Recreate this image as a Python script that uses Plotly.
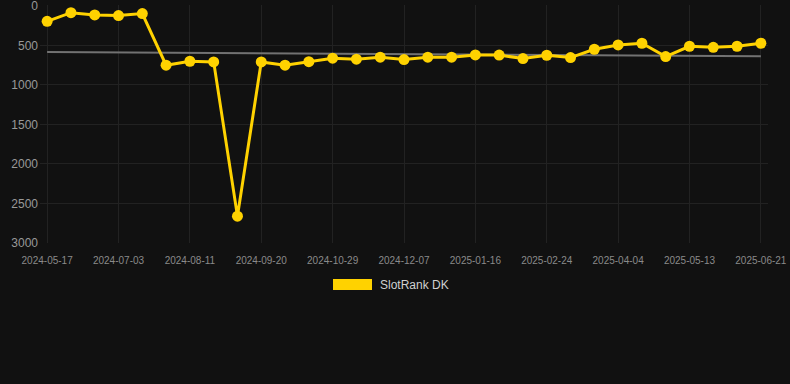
import numpy as np
import plotly.graph_objects as go

dates = ["2024-05-17", "2024-06-01", "2024-06-17", "2024-07-03", "2024-07-16", "2024-07-29",
         "2024-08-11", "2024-08-24", "2024-09-07", "2024-09-20", "2024-10-03", "2024-10-16",
         "2024-10-29", "2024-11-11", "2024-11-24", "2024-12-07", "2024-12-20", "2025-01-03",
         "2025-01-16", "2025-01-29", "2025-02-11", "2025-02-24", "2025-03-09", "2025-03-22",
         "2025-04-04", "2025-04-17", "2025-04-30", "2025-05-13", "2025-05-26", "2025-06-08",
         "2025-06-21"]
ranks = [195, 85, 114, 122, 97, 750, 700, 708, 2660, 708, 750, 706, 661, 674, 649, 678,
         649, 649, 620, 622, 666, 624, 653, 548, 493, 472, 641, 510, 523, 510, 472]
tick_labels = dates[::3]
y_ticks = [0, 500, 1000, 1500, 2000, 2500, 3000]
series_name = "SlotRank DK"

idx = np.arange(len(ranks))
slope, intercept = np.polyfit(idx, ranks, 1)
trend = slope * idx + intercept

GOLD = "#FFD200"
fig = go.Figure()
fig.add_trace(go.Scatter(x=dates, y=trend, mode="lines",
                         line=dict(color="#727272", width=2), showlegend=False, hoverinfo="skip"))
fig.add_trace(go.Scatter(x=dates, y=ranks, mode="lines+markers", name=series_name,
                         line=dict(color=GOLD, width=3),
                         marker=dict(color=GOLD, size=11), showlegend=False))

# legend drawn as box + text
fig.add_shape(type="rect", xref="paper", yref="paper", x0=(333-40)/728, x1=(372-40)/728,
              y0=-(279-243)/238, y1=-(290-243)/238, fillcolor=GOLD, line=dict(width=0))
fig.add_annotation(xref="paper", yref="paper", x=(378-40)/728, y=-(284.5-243)/238,
                   text=series_name, showarrow=False, xanchor="left", yanchor="middle",
                   font=dict(size=12, color="#d0d0d0", family="Liberation Sans, Arial"))

fig.update_layout(
    width=790, height=384,
    margin=dict(l=40, r=22, t=5, b=141, autoexpand=False),
    paper_bgcolor="#111111", plot_bgcolor="#111111",
    font=dict(family="Liberation Sans, Arial", color="#999999"),
    xaxis=dict(type="category", range=[-0.3, len(dates) - 0.7],
               tickmode="array", tickvals=tick_labels, ticktext=tick_labels,
               tickfont=dict(size=10, color="#8a8a8a"), showgrid=True,
               gridcolor="#222222", zeroline=False, showline=False, ticks="", ticklen=0,
               ticklabelstandoff=10, ticklabeloverflow="allow", automargin=False),
    yaxis=dict(range=[3000, -12], tickvals=y_ticks, tickfont=dict(size=12, color="#999999"),
               showgrid=True, gridcolor="#222222", zeroline=False, showline=False,
               ticks="", ticklabelstandoff=1, ticklabeloverflow="allow", automargin=False),
)
fig.write_html("out.html", post_script="document.body.style.margin='0';",
               config={"displayModeBar": False})
